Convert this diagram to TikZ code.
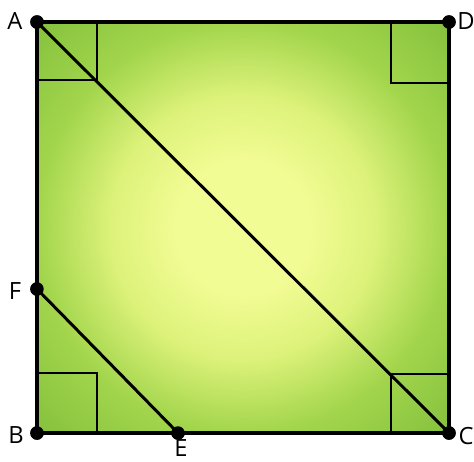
\documentclass[tikz,border=0pt]{standalone}
\usepackage{fontspec}
\setsansfont{Open Sans}
\usepackage{tikz}
\usetikzlibrary{calc}
\definecolor{glowin}{HTML}{F2FC94}
\definecolor{glowmid}{HTML}{DDF27A}
\definecolor{glowedge}{HTML}{A2D54C}
\definecolor{glowout}{HTML}{86C23E}
\pgfdeclareradialshading{sqglow}{\pgfpoint{0bp}{0bp}}{color(0bp)=(glowin); color(8bp)=(glowin); color(16bp)=(glowmid); color(25bp)=(glowedge); color(35bp)=(glowout); color(50bp)=(glowout)}

\begin{document}
\begin{tikzpicture}[
  x=0.02cm, y=-0.02cm,
  dot/.style={circle, fill=black, inner sep=0pt, minimum size=0.27cm},
  lbl/.style={font=\sffamily\fontsize{13.5}{15}\selectfont, inner sep=0pt},
  side/.style={line width=2.3pt, line join=miter},
  diag/.style={line width=1.7pt},
  rmark/.style={line width=1.4pt}
]
  \useasboundingbox (0,0) rectangle (474,461);

  % corners and points
  \node[dot] (A) at (37,22) {};
  \node[dot] (D) at (449,22) {};
  \node[dot] (B) at (37,433) {};
  \node[dot] (C) at (449,433) {};
  \node[dot] (F) at (37,289) {};
  \node[dot] (E) at (178,433) {};

  % green square
  \shade[shading=sqglow] (A.center) -- (D.center) -- (C.center) -- (B.center) -- cycle;

  % right angle marks
  \draw[rmark] ($(A.center)+(60,0)$) |- ($(A.center)+(0,58)$);
  \draw[rmark] ($(D.center)+(-58,0)$) |- ($(D.center)+(0,61)$);
  \draw[rmark] ($(B.center)+(60,0)$) |- ($(B.center)+(0,-60)$);
  \draw[rmark] ($(C.center)+(-58,0)$) |- ($(C.center)+(0,-59)$);

  \draw[diag] (A.center) -- (C.center);
  \draw[diag] (F.center) -- (E.center);
  \draw[side] (A.center) -- (D.center) -- (C.center) -- (B.center) -- cycle;

  % dots on top
  \foreach \p in {A,B,C,D,E,F}
    \fill (\p) circle (0.135cm);

  % labels
  \node[lbl] (labA) at (15,21) {A};
  \node[lbl] (labD) at (466,21) {D};
  \node[lbl] (labB) at (16,435) {B};
  \node[lbl] (labC) at (466,436) {C};
  \node[lbl] (labF) at (15,291) {F};
  \node[lbl] (labE) at (181,448) {E};
\end{tikzpicture}
\end{document}
